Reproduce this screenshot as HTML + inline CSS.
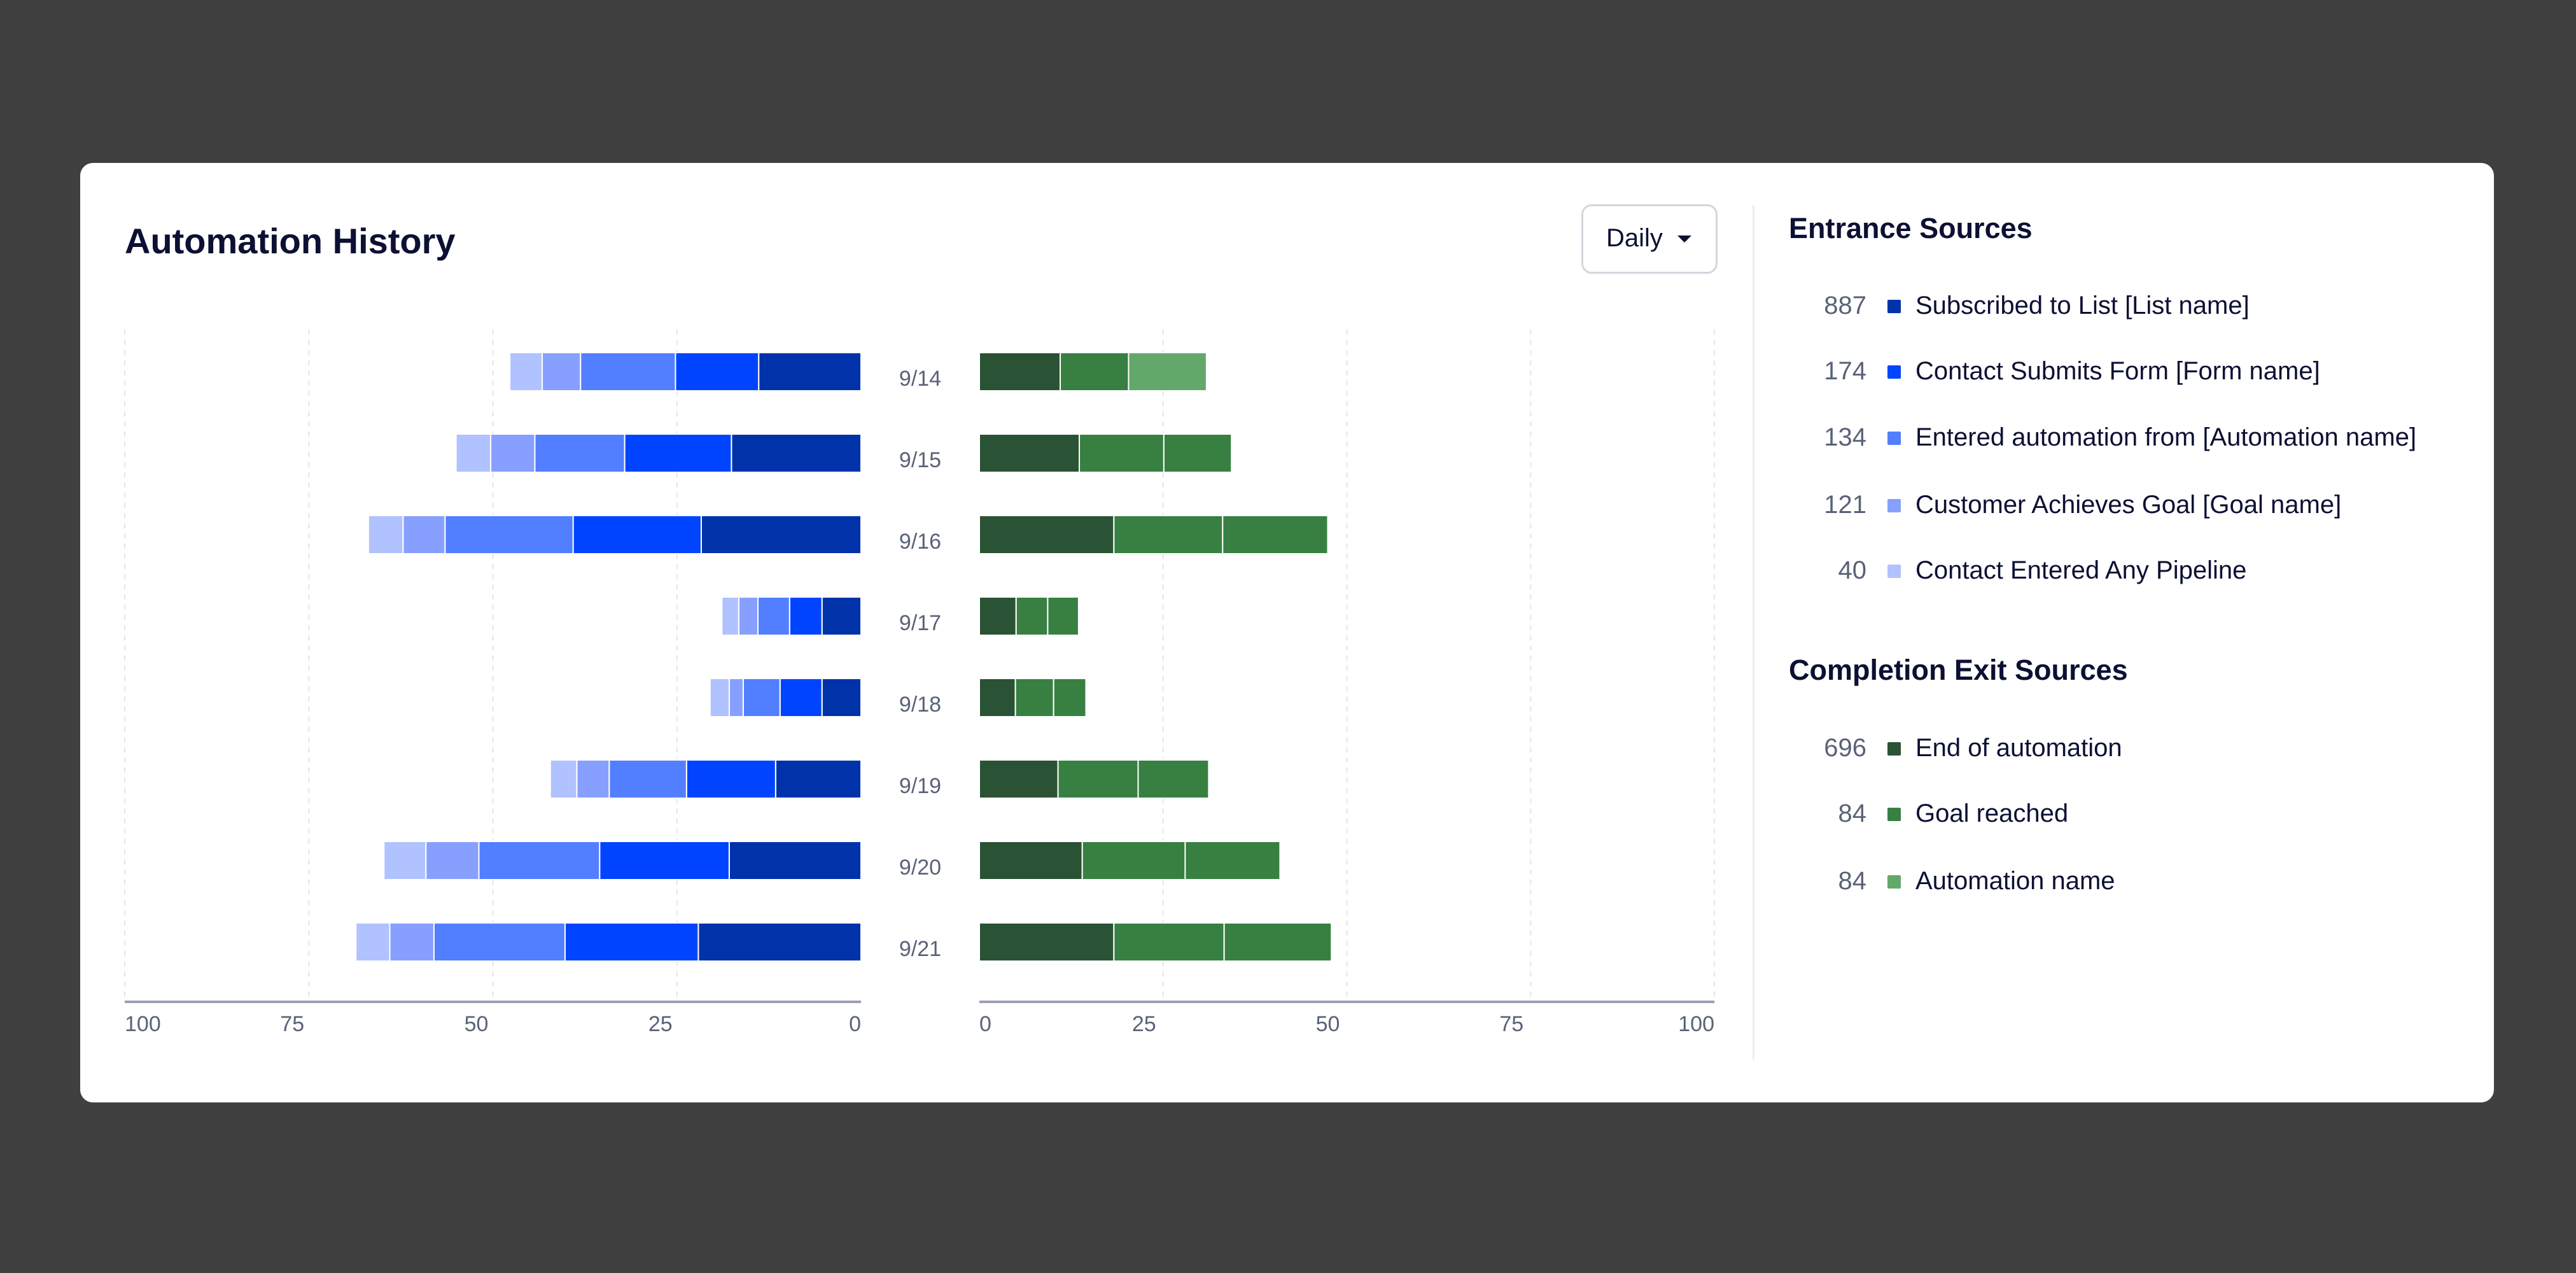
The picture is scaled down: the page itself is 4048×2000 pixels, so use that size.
<!DOCTYPE html>
<html><head><meta charset="utf-8">
<style>
html,body{margin:0;padding:0;}
body{width:4048px;height:2000px;background:#404040;position:relative;overflow:hidden;font-family:"Liberation Sans",sans-serif;}
.card{position:absolute;left:126px;top:256px;width:3793px;height:1476px;background:#fff;border-radius:20px;}
.abs{position:absolute;}
.title{left:196px;top:346px;font-size:56px;font-weight:bold;color:#0c1033;white-space:nowrap;}
.dd{left:2485px;top:321px;width:208px;height:103px;border:3px solid #d3d6de;border-radius:16px;background:#fff;}
.dd span{position:absolute;left:36px;top:28px;font-size:40px;color:#0c1033;}
.caret{position:absolute;left:148px;top:46px;width:0;height:0;border-left:11px solid transparent;border-right:11px solid transparent;border-top:11px solid #0c1033;}
.divider{left:2754px;top:323px;width:3px;height:1342px;background:#eceef2;}
.lh{font-size:45px;font-weight:bold;color:#0c1033;white-space:nowrap;}
.num{font-size:40px;color:#5a6278;text-align:right;width:140px;}
.sw{width:21px;height:21px;border-radius:2px;}
.lab{font-size:40px;color:#0c1033;white-space:nowrap;}
svg{position:absolute;left:0;top:0;}
</style></head>
<body>
<div class="card"></div>
<div class="abs title">Automation History</div>
<div class="abs dd"><span>Daily</span><div class="caret"></div></div>
<div class="abs divider"></div>

<svg id="chart" width="4048" height="2000"></svg>
<div id="legend"></div>

<script>
const dates = ["9/14","9/15","9/16","9/17","9/18","9/19","9/20","9/21"];
const entSubscribed = [13.9,17.6,21.7,5.3,5.3,11.6,17.9,22.1];
const entForm = [11.3,14.5,17.4,4.4,5.7,12.1,17.6,18.1];
const entAutomation = [12.9,12.2,17.4,4.3,5.0,10.5,16.4,17.8];
const entGoal = [5.2,6.0,5.7,2.6,1.9,4.4,7.2,6.0];
const entPipeline = [4.4,4.7,4.7,2.3,2.6,3.6,5.7,4.6];
const exitEnd = [11.0,13.6,18.3,5.0,4.9,10.7,14.0,18.3];
const exitGoal = [9.3,11.5,14.8,4.3,5.2,10.9,14.0,15.0];
const exitAutomation = [10.6,9.2,14.3,4.2,4.4,9.6,12.9,14.6];
const leftTicks = ["100","75","50","25","0"];
const rightTicks = ["0","25","50","75","100"];
const entCounts = ["887","174","134","121","40"];
const entLabels = ["Subscribed to List [List name]","Contact Submits Form [Form name]","Entered automation from [Automation name]","Customer Achieves Goal [Goal name]","Contact Entered Any Pipeline"];
const exitCounts = ["696","84","84"];
const exitLabels = ["End of automation","Goal reached","Automation name"];

const entColors = ["#0033aa","#0044ff","#527fff","#87a0ff","#b0c2ff"];
const exitColors = ["#2a5234","#378042","#378042"];
const exitLegendColors = ["#2a5234","#378042","#63a86b"];
const NS="http://www.w3.org/2000/svg";
const svg=document.getElementById('chart');
const L0=1353,L100=196,R0=1539,R100=2694,TOP=518,AX=1574;
const xl=v=>L0-(L0-L100)*v/100;
const xr=v=>R0+(R100-R0)*v/100;
const yc=i=>584+i*128;
const BH=60;
function mk(tag,attrs){const e=document.createElementNS(NS,tag);for(const k in attrs)e.setAttribute(k,attrs[k]);svg.appendChild(e);return e;}

[0,25,50,75,100].forEach(v=>{
  if(v>0){
    let g=mk('line',{x1:xl(v),x2:xl(v),y1:TOP,y2:AX,stroke:'#e3e5ea','stroke-width':2,'stroke-dasharray':'8 8'});
    
    
    let h=mk('line',{x1:xr(v),x2:xr(v),y1:TOP,y2:AX,stroke:'#e3e5ea','stroke-width':2,'stroke-dasharray':'8 8'});
    
    
  }
});
let a1=mk('line',{x1:L100,x2:L0,y1:AX,y2:AX,stroke:'#9a9fb2','stroke-width':4});


let a2=mk('line',{x1:R0,x2:R100,y1:AX,y2:AX,stroke:'#9a9fb2','stroke-width':4});



leftTicks.forEach((t,i)=>{
  const v=+t;let x=xl(v)-26,anchor='middle';
  if(i===0){x=L100;anchor='start';}
  if(i===leftTicks.length-1){x=L0;anchor='end';}
  let e=mk('text',{x:x,y:1620,'font-size':34,fill:'#5a6278','text-anchor':anchor,'font-family':'Liberation Sans, sans-serif'});
  e.textContent=t;
  
  
});
rightTicks.forEach((t,i)=>{
  const v=+t;let x=xr(v)-30,anchor='middle';
  if(i===0){x=R0;anchor='start';}
  if(i===rightTicks.length-1){x=R100;anchor='end';}
  let e=mk('text',{x:x,y:1620,'font-size':34,fill:'#5a6278','text-anchor':anchor,'font-family':'Liberation Sans, sans-serif'});
  e.textContent=t;
  
  
});

const entSeries=[entSubscribed,entForm,entAutomation,entGoal,entPipeline];
const exitSeries=[exitEnd,exitGoal,exitAutomation];
dates.forEach((d,i)=>{
  let acc=0;
  entSeries.forEach((s,k)=>{
    const x1=xl(acc+s[i]),x2=xl(acc);acc+=s[i];
    let r=mk('rect',{x:x1,y:yc(i)-BH/2,width:Math.max(0,x2-x1),height:BH,fill:entColors[k],stroke:'#fff','stroke-width':2});
    
    
  });
  acc=0;
  exitSeries.forEach((s,k)=>{
    const x1=xr(acc),x2=xr(acc+s[i]);acc+=s[i];
    const col=(k===2&&i===0)?exitLegendColors[2]:exitColors[k];
    let r=mk('rect',{x:x1,y:yc(i)-BH/2,width:Math.max(0,x2-x1),height:BH,fill:col,stroke:'#fff','stroke-width':2});
    
    
  });
  let t=mk('text',{x:1446,y:yc(i)+22,'font-size':34,fill:'#5a6278','text-anchor':'middle','font-family':'Liberation Sans, sans-serif'});
  t.textContent=d;
  
  
});

const lg=document.getElementById('legend');
function add(cls,style,text,name,inter){
  const e=document.createElement('div');
  e.className='abs '+cls;e.setAttribute('style',style);
  if(text!==null)e.textContent=text;
  
  
  lg.appendChild(e);return e;
}
add('lh','left:2811px;top:333px;','Entrance Sources','entrance-sources-heading','false');
entLabels.forEach((l,i)=>{
  const y=[481,584,688,794,897][i];
  add('num','left:2793px;top:'+(y-23)+'px;',entCounts[i],'entrance-count','false');
  add('sw','left:2966px;top:'+(y-10)+'px;background:'+entColors[i]+';',null,'entrance-legend-swatch','false');
  add('lab','left:3010px;top:'+(y-23)+'px;',l,'entrance-legend-label','true');
});
add('lh','left:2811px;top:1027px;','Completion Exit Sources','exit-sources-heading','false');
exitLabels.forEach((l,i)=>{
  const y=[1176,1279,1385][i];
  add('num','left:2793px;top:'+(y-23)+'px;',exitCounts[i],'exit-count','false');
  add('sw','left:2966px;top:'+(y-10)+'px;background:'+exitLegendColors[i]+';',null,'exit-legend-swatch','false');
  add('lab','left:3010px;top:'+(y-23)+'px;',l,'exit-legend-label','true');
});
</script>
</body></html>
